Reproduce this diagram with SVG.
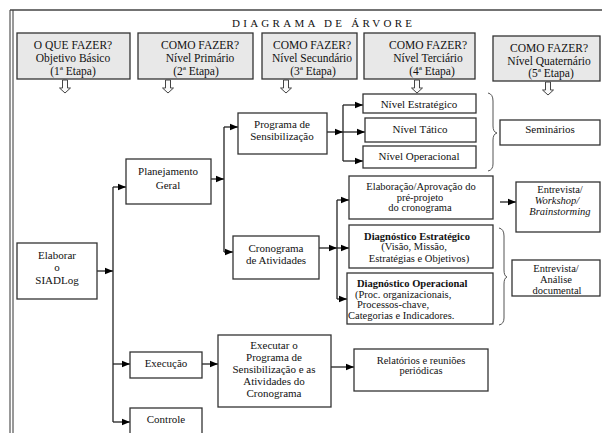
<svg xmlns="http://www.w3.org/2000/svg" width="602" height="433" viewBox="0 0 602 433" font-family="Liberation Serif, DejaVu Serif, Times New Roman, serif">
<defs>
<marker id="ah" markerUnits="userSpaceOnUse" markerWidth="9" markerHeight="8" refX="8.5" refY="4" orient="auto">
<path d="M0,0.5 L8.5,4 L0,7.5 Z" fill="#000"/>
</marker>
<style>
text{font-family:'Liberation Serif','DejaVu Serif',serif;font-size:11px;fill:#111;text-anchor:middle}
.hd{font-size:11.5px}
.s{font-size:10.5px}
.b{font-weight:bold}
.i{font-style:italic}
.l{text-anchor:start}
.box{fill:#fff;stroke:#333;stroke-width:1.3}
.hbox{fill:#e8e8e8;stroke:#333;stroke-width:1.3}
.c{fill:none;stroke:#222;stroke-width:1.3}
.a{fill:none;stroke:#222;stroke-width:1.3;marker-end:url(#ah)}
.br{fill:none;stroke:#555;stroke-width:1}
.da{fill:#fafafa;stroke:#444;stroke-width:1}
</style>
</defs>
<rect width="602" height="433" fill="#fff"/>
<g id="frame">
<line x1="10" y1="10" x2="10" y2="433" stroke="#333" stroke-width="1"/>
<line x1="13" y1="10" x2="13" y2="433" stroke="#333" stroke-width="1"/>
<line x1="10" y1="10" x2="602" y2="10" stroke="#444" stroke-width="1.5"/>
<text x="232" y="27" style="text-anchor:start" textLength="180" lengthAdjust="spacing">DIAGRAMA DE ÁRVORE</text>
</g>
<g id="h1"><rect class="hbox" x="17" y="33" width="113" height="46"/>
<text class="hd" x="73" y="48.5">O QUE FAZER?</text><text class="hd" x="73" y="61.5">Objetivo Básico</text><text class="hd" x="73" y="74.5">(1ª Etapa)</text>
<path class="da" d="M62.5,80 h5 v8 h3 l-5.5,5 l-5.5,-5 h3 z"/></g>
<g id="h2"><rect class="hbox" x="138" y="33" width="115" height="46"/>
<text class="hd" x="200" y="48.5">COMO FAZER?</text><text class="hd" x="200" y="61.5">Nível Primário</text><text class="hd" x="196" y="74.5">(2ª Etapa)</text>
<path class="da" d="M165.5,80 h5 v8 h3 l-5.5,5 l-5.5,-5 h3 z"/></g>
<g id="h3"><rect class="hbox" x="262" y="33" width="95" height="46"/>
<text class="hd" x="312" y="48.5">COMO FAZER?</text><text class="hd" x="312" y="61.5">Nível Secundário</text><text class="hd" x="313" y="74.5">(3ª Etapa)</text>
<path class="da" d="M283.5,80 h5 v8 h3 l-5.5,5 l-5.5,-5 h3 z"/></g>
<g id="h4"><rect class="hbox" x="364" y="33" width="111" height="46"/>
<text class="hd" x="428" y="48.5">COMO FAZER?</text><text class="hd" x="428" y="61.5">Nível Terciário</text><text class="hd" x="432" y="74.5">(4ª Etapa)</text>
<path class="da" d="M414.5,80 h5 v8 h3 l-5.5,5 l-5.5,-5 h3 z"/></g>
<g id="h5"><rect class="hbox" x="493" y="36" width="107" height="45"/>
<text class="hd" x="549" y="52">COMO FAZER?</text><text class="hd" x="549" y="64.5">Nível Quaternário</text><text class="hd" x="551" y="77">(5ª Etapa)</text>
<path class="da" d="M545.5,82 h5 v8 h3 l-5.5,5 l-5.5,-5 h3 z"/></g>

<g id="connectors">
<line class="a" x1="97" y1="271" x2="113" y2="271"/>
<line class="c" x1="113" y1="187" x2="113" y2="422"/>
<line class="a" x1="113" y1="187" x2="126" y2="187"/>
<line class="a" x1="113" y1="364" x2="130" y2="364"/>
<line class="a" x1="113" y1="422" x2="130" y2="422"/>
<line class="a" x1="211" y1="179" x2="224" y2="179"/>
<line class="c" x1="224" y1="127" x2="224" y2="252"/>
<line class="a" x1="224" y1="127" x2="238" y2="127"/>
<line class="a" x1="224" y1="252" x2="233" y2="252"/>
<line class="a" x1="327" y1="132" x2="343" y2="132"/>
<line class="c" x1="343" y1="105" x2="343" y2="161"/>
<line class="a" x1="343" y1="105" x2="363" y2="105"/>
<line class="a" x1="343" y1="132" x2="365" y2="132"/>
<line class="a" x1="343" y1="161" x2="363" y2="161"/>
<line class="a" x1="319" y1="248" x2="337" y2="248"/>
<line class="a" x1="337" y1="248" x2="349" y2="248"/>
<line class="c" x1="337" y1="200" x2="337" y2="299"/>
<line class="a" x1="337" y1="200" x2="349" y2="200"/>
<line class="a" x1="337" y1="299" x2="347" y2="299"/>
<line class="a" x1="500" y1="202" x2="516" y2="202"/>
<line class="a" x1="202" y1="364" x2="218" y2="364"/>
<line class="a" x1="331" y1="367" x2="354" y2="367"/>
<path class="br" d="M488,93 Q493,94 493,101 L493,126 Q493,132 497,133 Q493,134 493,140 L493,164 Q493,170 488,171"/>
<path class="br" d="M499,228 Q504,229 504,236 L504,270 Q504,276 507,277 Q504,278 504,284 L504,318 Q504,324 499,325"/>
</g>

<g id="n_elaborar"><rect class="box" x="17" y="243" width="80" height="56"/>
<text x="57" y="258.5">Elaborar</text><text x="57" y="271">o</text><text x="57" y="283.5">SIADLog</text></g>
<g id="n_planejamento"><rect class="box" x="126" y="159" width="85" height="45"/>
<text x="168" y="175">Planejamento</text><text x="168" y="189">Geral</text></g>
<g id="n_programa"><rect class="box" x="238" y="113" width="89" height="41"/>
<text x="282" y="128">Programa de</text><text x="282" y="140">Sensibilização</text></g>
<g id="n_estrategico"><rect class="box" x="363" y="94" width="113" height="19"/>
<text x="419" y="108">Nível Estratégico</text></g>
<g id="n_tatico"><rect class="box" x="365" y="118" width="111" height="24"/>
<text x="420" y="133">Nível Tático</text></g>
<g id="n_operacional"><rect class="box" x="363" y="146" width="113" height="22"/>
<text x="419" y="160">Nível Operacional</text></g>
<g id="n_seminarios"><rect class="box" x="500" y="120" width="100" height="25"/>
<text x="550" y="133">Seminários</text></g>
<g id="n_cronograma"><rect class="box" x="233" y="236" width="86" height="43"/>
<text x="276" y="252">Cronograma</text><text x="276" y="264">de Atividades</text></g>
<g id="n_elaboracao"><rect class="box" x="349" y="176" width="144" height="43"/>
<text class="s" x="421" y="190">Elaboração/Aprovação do</text><text class="s" x="420" y="200.5">pré-projeto</text><text class="s" x="420" y="211">do cronograma</text></g>
<g id="n_diagestrat"><rect class="box" x="349" y="225" width="144" height="43"/>
<text class="b s" x="417" y="239.5">Diagnóstico Estratégico</text><text class="s" x="414" y="250">(Visão, Missão,</text><text class="s" x="419" y="261.5">Estratégias e Objetivos)</text></g>
<g id="n_diagop"><rect class="box" x="347" y="273" width="146" height="51"/>
<text class="b l s" x="357" y="287">Diagnóstico Operacional</text><text class="l s" x="355" y="297.5">(Proc. organizacionais,</text><text class="l s" x="357" y="308">Processos-chave,</text><text class="l s" x="348" y="319">Categorias e Indicadores.</text></g>
<g id="n_entrevista1"><rect class="box" x="516" y="182" width="84" height="50"/>
<text class="s" x="560" y="193">Entrevista/</text><text class="i s" x="557" y="204">Workshop/</text><text class="i s" x="560" y="215">Brainstorming</text></g>
<g id="n_entrevista2"><rect class="box" x="512" y="260" width="88" height="36"/>
<text class="s" x="556" y="272">Entrevista/</text><text class="s" x="556" y="283">Análise</text><text class="s" x="557" y="294">documental</text></g>
<g id="n_execucao"><rect class="box" x="130" y="352" width="72" height="26"/>
<text x="166" y="367">Execução</text></g>
<g id="n_executar"><rect class="box" x="218" y="335" width="113" height="72"/>
<text x="274" y="349">Executar o</text><text x="274" y="361">Programa de</text><text x="274" y="373">Sensibilização e as</text><text x="274" y="385">Atividades do</text><text x="274" y="397">Cronograma</text></g>
<g id="n_relatorios"><rect class="box" x="354" y="349" width="134" height="42"/>
<text class="s" x="421" y="363.5">Relatórios e reuniões</text><text class="s" x="421" y="374">periódicas</text></g>
<g id="n_controle"><rect class="box" x="130" y="408" width="72" height="35"/>
<text x="166" y="423">Controle</text></g>
</svg>
